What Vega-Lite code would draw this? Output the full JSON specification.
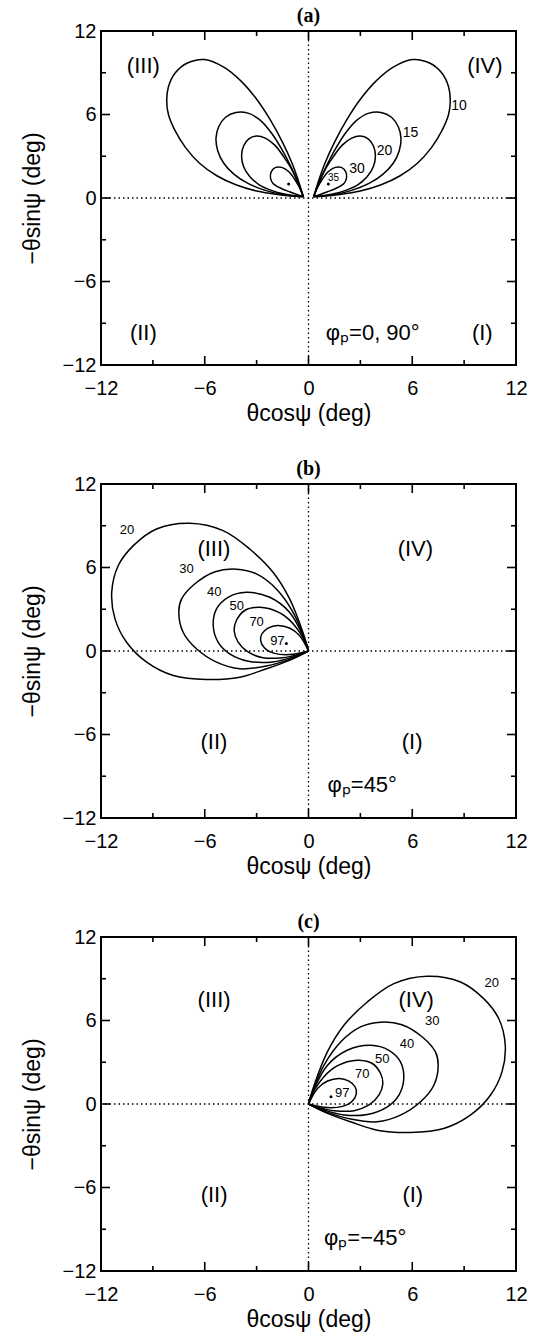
{
  "$schema": "https://vega.github.io/schema/vega-lite/v6.json",
  "padding": {"left": 20, "top": 5, "right": 5, "bottom": 1},
  "spacing": 32,
  "config": {
    "view": {"stroke": "black", "strokeWidth": 2},
    "font": "Liberation Sans",
    "axis": {"domain": false, "grid": false, "ticks": false, "labelFont": "Liberation Sans", "labelFontSize": 20, "labelColor": "black", "titleFont": "Liberation Sans", "titleFontSize": 23, "titleFontWeight": "normal", "titleColor": "black"},
    "title": {"font": "Liberation Serif", "fontSize": 20, "fontWeight": "bold", "color": "black", "offset": -5}
  },
  "datasets": {
    "loops": [
      {"p":"a","k":"10R","i":0,"x":0.3,"y":0.1},{"p":"a","k":"10R","i":1,"x":0.6,"y":1.3},{"p":"a","k":"10R","i":2,"x":0.95,"y":2.5},{"p":"a","k":"10R","i":3,"x":1.5,"y":4.0},{"p":"a","k":"10R","i":4,"x":2.2,"y":5.6},{"p":"a","k":"10R","i":5,"x":3.0,"y":7.1},{"p":"a","k":"10R","i":6,"x":3.9,"y":8.4},{"p":"a","k":"10R","i":7,"x":4.9,"y":9.4},{"p":"a","k":"10R","i":8,"x":6.0,"y":9.95},{"p":"a","k":"10R","i":9,"x":7.0,"y":9.7},{"p":"a","k":"10R","i":10,"x":7.7,"y":9.0},{"p":"a","k":"10R","i":11,"x":8.1,"y":8.0},{"p":"a","k":"10R","i":12,"x":8.2,"y":7.0},{"p":"a","k":"10R","i":13,"x":8.1,"y":6.0},{"p":"a","k":"10R","i":14,"x":7.7,"y":4.8},{"p":"a","k":"10R","i":15,"x":7.1,"y":3.6},{"p":"a","k":"10R","i":16,"x":6.3,"y":2.5},{"p":"a","k":"10R","i":17,"x":5.3,"y":1.6},{"p":"a","k":"10R","i":18,"x":4.2,"y":0.95},{"p":"a","k":"10R","i":19,"x":3.0,"y":0.5},{"p":"a","k":"10R","i":20,"x":1.8,"y":0.25},{"p":"a","k":"10R","i":21,"x":0.8,"y":0.13},{"p":"a","k":"10R","i":22,"x":0.3,"y":0.1},
      {"p":"a","k":"10L","i":0,"x":-0.3,"y":0.1},{"p":"a","k":"10L","i":1,"x":-0.6,"y":1.3},{"p":"a","k":"10L","i":2,"x":-0.95,"y":2.5},{"p":"a","k":"10L","i":3,"x":-1.5,"y":4.0},{"p":"a","k":"10L","i":4,"x":-2.2,"y":5.6},{"p":"a","k":"10L","i":5,"x":-3.0,"y":7.1},{"p":"a","k":"10L","i":6,"x":-3.9,"y":8.4},{"p":"a","k":"10L","i":7,"x":-4.9,"y":9.4},{"p":"a","k":"10L","i":8,"x":-6.0,"y":9.95},{"p":"a","k":"10L","i":9,"x":-7.0,"y":9.7},{"p":"a","k":"10L","i":10,"x":-7.7,"y":9.0},{"p":"a","k":"10L","i":11,"x":-8.1,"y":8.0},{"p":"a","k":"10L","i":12,"x":-8.2,"y":7.0},{"p":"a","k":"10L","i":13,"x":-8.1,"y":6.0},{"p":"a","k":"10L","i":14,"x":-7.7,"y":4.8},{"p":"a","k":"10L","i":15,"x":-7.1,"y":3.6},{"p":"a","k":"10L","i":16,"x":-6.3,"y":2.5},{"p":"a","k":"10L","i":17,"x":-5.3,"y":1.6},{"p":"a","k":"10L","i":18,"x":-4.2,"y":0.95},{"p":"a","k":"10L","i":19,"x":-3.0,"y":0.5},{"p":"a","k":"10L","i":20,"x":-1.8,"y":0.25},{"p":"a","k":"10L","i":21,"x":-0.8,"y":0.13},{"p":"a","k":"10L","i":22,"x":-0.3,"y":0.1},
      {"p":"a","k":"15R","i":0,"x":0.3,"y":0.1},{"p":"a","k":"15R","i":1,"x":0.6,"y":1.1},{"p":"a","k":"15R","i":2,"x":1.0,"y":2.2},{"p":"a","k":"15R","i":3,"x":1.5,"y":3.4},{"p":"a","k":"15R","i":4,"x":2.1,"y":4.6},{"p":"a","k":"15R","i":5,"x":2.8,"y":5.6},{"p":"a","k":"15R","i":6,"x":3.5,"y":6.1},{"p":"a","k":"15R","i":7,"x":4.2,"y":6.15},{"p":"a","k":"15R","i":8,"x":4.8,"y":5.8},{"p":"a","k":"15R","i":9,"x":5.2,"y":5.1},{"p":"a","k":"15R","i":10,"x":5.35,"y":4.3},{"p":"a","k":"15R","i":11,"x":5.25,"y":3.4},{"p":"a","k":"15R","i":12,"x":4.9,"y":2.5},{"p":"a","k":"15R","i":13,"x":4.3,"y":1.7},{"p":"a","k":"15R","i":14,"x":3.5,"y":1.05},{"p":"a","k":"15R","i":15,"x":2.5,"y":0.55},{"p":"a","k":"15R","i":16,"x":1.5,"y":0.25},{"p":"a","k":"15R","i":17,"x":0.7,"y":0.13},{"p":"a","k":"15R","i":18,"x":0.3,"y":0.1},
      {"p":"a","k":"15L","i":0,"x":-0.3,"y":0.1},{"p":"a","k":"15L","i":1,"x":-0.6,"y":1.1},{"p":"a","k":"15L","i":2,"x":-1.0,"y":2.2},{"p":"a","k":"15L","i":3,"x":-1.5,"y":3.4},{"p":"a","k":"15L","i":4,"x":-2.1,"y":4.6},{"p":"a","k":"15L","i":5,"x":-2.8,"y":5.6},{"p":"a","k":"15L","i":6,"x":-3.5,"y":6.1},{"p":"a","k":"15L","i":7,"x":-4.2,"y":6.15},{"p":"a","k":"15L","i":8,"x":-4.8,"y":5.8},{"p":"a","k":"15L","i":9,"x":-5.2,"y":5.1},{"p":"a","k":"15L","i":10,"x":-5.35,"y":4.3},{"p":"a","k":"15L","i":11,"x":-5.25,"y":3.4},{"p":"a","k":"15L","i":12,"x":-4.9,"y":2.5},{"p":"a","k":"15L","i":13,"x":-4.3,"y":1.7},{"p":"a","k":"15L","i":14,"x":-3.5,"y":1.05},{"p":"a","k":"15L","i":15,"x":-2.5,"y":0.55},{"p":"a","k":"15L","i":16,"x":-1.5,"y":0.25},{"p":"a","k":"15L","i":17,"x":-0.7,"y":0.13},{"p":"a","k":"15L","i":18,"x":-0.3,"y":0.1},
      {"p":"a","k":"20R","i":0,"x":0.3,"y":0.1},{"p":"a","k":"20R","i":1,"x":0.55,"y":0.9},{"p":"a","k":"20R","i":2,"x":0.9,"y":1.9},{"p":"a","k":"20R","i":3,"x":1.4,"y":2.9},{"p":"a","k":"20R","i":4,"x":1.95,"y":3.8},{"p":"a","k":"20R","i":5,"x":2.5,"y":4.3},{"p":"a","k":"20R","i":6,"x":3.0,"y":4.45},{"p":"a","k":"20R","i":7,"x":3.45,"y":4.25},{"p":"a","k":"20R","i":8,"x":3.75,"y":3.75},{"p":"a","k":"20R","i":9,"x":3.87,"y":3.0},{"p":"a","k":"20R","i":10,"x":3.75,"y":2.25},{"p":"a","k":"20R","i":11,"x":3.4,"y":1.55},{"p":"a","k":"20R","i":12,"x":2.85,"y":0.95},{"p":"a","k":"20R","i":13,"x":2.15,"y":0.55},{"p":"a","k":"20R","i":14,"x":1.4,"y":0.28},{"p":"a","k":"20R","i":15,"x":0.7,"y":0.14},{"p":"a","k":"20R","i":16,"x":0.3,"y":0.1},
      {"p":"a","k":"20L","i":0,"x":-0.3,"y":0.1},{"p":"a","k":"20L","i":1,"x":-0.55,"y":0.9},{"p":"a","k":"20L","i":2,"x":-0.9,"y":1.9},{"p":"a","k":"20L","i":3,"x":-1.4,"y":2.9},{"p":"a","k":"20L","i":4,"x":-1.95,"y":3.8},{"p":"a","k":"20L","i":5,"x":-2.5,"y":4.3},{"p":"a","k":"20L","i":6,"x":-3.0,"y":4.45},{"p":"a","k":"20L","i":7,"x":-3.45,"y":4.25},{"p":"a","k":"20L","i":8,"x":-3.75,"y":3.75},{"p":"a","k":"20L","i":9,"x":-3.87,"y":3.0},{"p":"a","k":"20L","i":10,"x":-3.75,"y":2.25},{"p":"a","k":"20L","i":11,"x":-3.4,"y":1.55},{"p":"a","k":"20L","i":12,"x":-2.85,"y":0.95},{"p":"a","k":"20L","i":13,"x":-2.15,"y":0.55},{"p":"a","k":"20L","i":14,"x":-1.4,"y":0.28},{"p":"a","k":"20L","i":15,"x":-0.7,"y":0.14},{"p":"a","k":"20L","i":16,"x":-0.3,"y":0.1},
      {"p":"a","k":"30R","i":0,"x":0.3,"y":0.1},{"p":"a","k":"30R","i":1,"x":0.5,"y":0.7},{"p":"a","k":"30R","i":2,"x":0.8,"y":1.35},{"p":"a","k":"30R","i":3,"x":1.15,"y":1.9},{"p":"a","k":"30R","i":4,"x":1.55,"y":2.2},{"p":"a","k":"30R","i":5,"x":1.9,"y":2.2},{"p":"a","k":"30R","i":6,"x":2.15,"y":1.9},{"p":"a","k":"30R","i":7,"x":2.2,"y":1.45},{"p":"a","k":"30R","i":8,"x":2.05,"y":1.05},{"p":"a","k":"30R","i":9,"x":1.6,"y":0.7},{"p":"a","k":"30R","i":10,"x":1.1,"y":0.45},{"p":"a","k":"30R","i":11,"x":0.6,"y":0.22},{"p":"a","k":"30R","i":12,"x":0.3,"y":0.1},
      {"p":"a","k":"30L","i":0,"x":-0.3,"y":0.1},{"p":"a","k":"30L","i":1,"x":-0.5,"y":0.7},{"p":"a","k":"30L","i":2,"x":-0.8,"y":1.35},{"p":"a","k":"30L","i":3,"x":-1.15,"y":1.9},{"p":"a","k":"30L","i":4,"x":-1.55,"y":2.2},{"p":"a","k":"30L","i":5,"x":-1.9,"y":2.2},{"p":"a","k":"30L","i":6,"x":-2.15,"y":1.9},{"p":"a","k":"30L","i":7,"x":-2.2,"y":1.45},{"p":"a","k":"30L","i":8,"x":-2.05,"y":1.05},{"p":"a","k":"30L","i":9,"x":-1.6,"y":0.7},{"p":"a","k":"30L","i":10,"x":-1.1,"y":0.45},{"p":"a","k":"30L","i":11,"x":-0.6,"y":0.22},{"p":"a","k":"30L","i":12,"x":-0.3,"y":0.1},

      {"p":"c","k":"20","i":0,"x":0,"y":0},{"p":"c","k":"20","i":1,"x":0.33,"y":1.36},{"p":"c","k":"20","i":2,"x":1.09,"y":3.74},{"p":"c","k":"20","i":3,"x":2.05,"y":5.66},{"p":"c","k":"20","i":4,"x":3.4,"y":7.33},{"p":"c","k":"20","i":5,"x":4.94,"y":8.65},{"p":"c","k":"20","i":6,"x":6.86,"y":9.18},{"p":"c","k":"20","i":7,"x":8.79,"y":8.77},{"p":"c","k":"20","i":8,"x":10.13,"y":7.57},{"p":"c","k":"20","i":9,"x":11.0,"y":6.14},{"p":"c","k":"20","i":10,"x":11.38,"y":4.22},{"p":"c","k":"20","i":11,"x":11.19,"y":2.31},{"p":"c","k":"20","i":12,"x":10.52,"y":0.63},{"p":"c","k":"20","i":13,"x":9.36,"y":-0.8},{"p":"c","k":"20","i":14,"x":7.82,"y":-1.76},{"p":"c","k":"20","i":15,"x":5.9,"y":-2.05},{"p":"c","k":"20","i":16,"x":3.97,"y":-1.88},{"p":"c","k":"20","i":17,"x":2.44,"y":-1.28},{"p":"c","k":"20","i":18,"x":1.1,"y":-0.67},{"p":"c","k":"20","i":19,"x":0,"y":0},
      {"p":"c","k":"30","i":0,"x":0,"y":0},{"p":"c","k":"30","i":1,"x":0.23,"y":0.89},{"p":"c","k":"30","i":2,"x":0.9,"y":2.8},{"p":"c","k":"30","i":3,"x":1.86,"y":4.46},{"p":"c","k":"30","i":4,"x":3.01,"y":5.54},{"p":"c","k":"30","i":5,"x":4.17,"y":5.88},{"p":"c","k":"30","i":6,"x":5.4,"y":5.7},{"p":"c","k":"30","i":7,"x":6.6,"y":4.8},{"p":"c","k":"30","i":8,"x":7.34,"y":3.74},{"p":"c","k":"30","i":9,"x":7.5,"y":2.79},{"p":"c","k":"30","i":10,"x":7.25,"y":1.35},{"p":"c","k":"30","i":11,"x":6.48,"y":0.16},{"p":"c","k":"30","i":12,"x":5.32,"y":-0.8},{"p":"c","k":"30","i":13,"x":3.97,"y":-1.28},{"p":"c","k":"30","i":14,"x":2.44,"y":-1.08},{"p":"c","k":"30","i":15,"x":1.1,"y":-0.6},{"p":"c","k":"30","i":16,"x":0,"y":0},
      {"p":"c","k":"40","i":0,"x":0,"y":0},{"p":"c","k":"40","i":1,"x":0.33,"y":1.12},{"p":"c","k":"40","i":2,"x":1.1,"y":2.79},{"p":"c","k":"40","i":3,"x":2.24,"y":3.86},{"p":"c","k":"40","i":4,"x":3.59,"y":4.22},{"p":"c","k":"40","i":5,"x":4.65,"y":3.86},{"p":"c","k":"40","i":6,"x":5.32,"y":3.03},{"p":"c","k":"40","i":7,"x":5.51,"y":1.83},{"p":"c","k":"40","i":8,"x":5.23,"y":0.64},{"p":"c","k":"40","i":9,"x":4.56,"y":-0.2},{"p":"c","k":"40","i":10,"x":3.4,"y":-0.75},{"p":"c","k":"40","i":11,"x":2.06,"y":-0.79},{"p":"c","k":"40","i":12,"x":0.9,"y":-0.43},{"p":"c","k":"40","i":13,"x":0,"y":0},
      {"p":"c","k":"50","i":0,"x":0,"y":0},{"p":"c","k":"50","i":1,"x":0.42,"y":1.17},{"p":"c","k":"50","i":2,"x":1.29,"y":2.44},{"p":"c","k":"50","i":3,"x":2.24,"y":3.03},{"p":"c","k":"50","i":4,"x":2.92,"y":3.15},{"p":"c","k":"50","i":5,"x":3.69,"y":2.91},{"p":"c","k":"50","i":6,"x":4.17,"y":2.19},{"p":"c","k":"50","i":7,"x":4.3,"y":1.47},{"p":"c","k":"50","i":8,"x":4.08,"y":0.65},{"p":"c","k":"50","i":9,"x":3.5,"y":-0.07},{"p":"c","k":"50","i":10,"x":2.64,"y":-0.48},{"p":"c","k":"50","i":11,"x":1.49,"y":-0.48},{"p":"c","k":"50","i":12,"x":0.62,"y":-0.26},{"p":"c","k":"50","i":13,"x":0,"y":0},
      {"p":"c","k":"70","i":0,"x":0,"y":0},{"p":"c","k":"70","i":1,"x":0.52,"y":1.12},{"p":"c","k":"70","i":2,"x":1.1,"y":1.65},{"p":"c","k":"70","i":3,"x":1.77,"y":1.84},{"p":"c","k":"70","i":4,"x":2.34,"y":1.65},{"p":"c","k":"70","i":5,"x":2.69,"y":1.24},{"p":"c","k":"70","i":6,"x":2.77,"y":0.77},{"p":"c","k":"70","i":7,"x":2.54,"y":0.22},{"p":"c","k":"70","i":8,"x":1.96,"y":-0.17},{"p":"c","k":"70","i":9,"x":1.1,"y":-0.26},{"p":"c","k":"70","i":10,"x":0.42,"y":-0.12},{"p":"c","k":"70","i":11,"x":0,"y":0},

      {"p":"b","k":"20","i":0,"x":0,"y":0},{"p":"b","k":"20","i":1,"x":-0.33,"y":1.36},{"p":"b","k":"20","i":2,"x":-1.09,"y":3.74},{"p":"b","k":"20","i":3,"x":-2.05,"y":5.66},{"p":"b","k":"20","i":4,"x":-3.4,"y":7.33},{"p":"b","k":"20","i":5,"x":-4.94,"y":8.65},{"p":"b","k":"20","i":6,"x":-6.86,"y":9.18},{"p":"b","k":"20","i":7,"x":-8.79,"y":8.77},{"p":"b","k":"20","i":8,"x":-10.13,"y":7.57},{"p":"b","k":"20","i":9,"x":-11.0,"y":6.14},{"p":"b","k":"20","i":10,"x":-11.38,"y":4.22},{"p":"b","k":"20","i":11,"x":-11.19,"y":2.31},{"p":"b","k":"20","i":12,"x":-10.52,"y":0.63},{"p":"b","k":"20","i":13,"x":-9.36,"y":-0.8},{"p":"b","k":"20","i":14,"x":-7.82,"y":-1.76},{"p":"b","k":"20","i":15,"x":-5.9,"y":-2.05},{"p":"b","k":"20","i":16,"x":-3.97,"y":-1.88},{"p":"b","k":"20","i":17,"x":-2.44,"y":-1.28},{"p":"b","k":"20","i":18,"x":-1.1,"y":-0.67},{"p":"b","k":"20","i":19,"x":0,"y":0},
      {"p":"b","k":"30","i":0,"x":0,"y":0},{"p":"b","k":"30","i":1,"x":-0.23,"y":0.89},{"p":"b","k":"30","i":2,"x":-0.9,"y":2.8},{"p":"b","k":"30","i":3,"x":-1.86,"y":4.46},{"p":"b","k":"30","i":4,"x":-3.01,"y":5.54},{"p":"b","k":"30","i":5,"x":-4.17,"y":5.88},{"p":"b","k":"30","i":6,"x":-5.4,"y":5.7},{"p":"b","k":"30","i":7,"x":-6.6,"y":4.8},{"p":"b","k":"30","i":8,"x":-7.34,"y":3.74},{"p":"b","k":"30","i":9,"x":-7.5,"y":2.79},{"p":"b","k":"30","i":10,"x":-7.25,"y":1.35},{"p":"b","k":"30","i":11,"x":-6.48,"y":0.16},{"p":"b","k":"30","i":12,"x":-5.32,"y":-0.8},{"p":"b","k":"30","i":13,"x":-3.97,"y":-1.28},{"p":"b","k":"30","i":14,"x":-2.44,"y":-1.08},{"p":"b","k":"30","i":15,"x":-1.1,"y":-0.6},{"p":"b","k":"30","i":16,"x":0,"y":0},
      {"p":"b","k":"40","i":0,"x":0,"y":0},{"p":"b","k":"40","i":1,"x":-0.33,"y":1.12},{"p":"b","k":"40","i":2,"x":-1.1,"y":2.79},{"p":"b","k":"40","i":3,"x":-2.24,"y":3.86},{"p":"b","k":"40","i":4,"x":-3.59,"y":4.22},{"p":"b","k":"40","i":5,"x":-4.65,"y":3.86},{"p":"b","k":"40","i":6,"x":-5.32,"y":3.03},{"p":"b","k":"40","i":7,"x":-5.51,"y":1.83},{"p":"b","k":"40","i":8,"x":-5.23,"y":0.64},{"p":"b","k":"40","i":9,"x":-4.56,"y":-0.2},{"p":"b","k":"40","i":10,"x":-3.4,"y":-0.75},{"p":"b","k":"40","i":11,"x":-2.06,"y":-0.79},{"p":"b","k":"40","i":12,"x":-0.9,"y":-0.43},{"p":"b","k":"40","i":13,"x":0,"y":0},
      {"p":"b","k":"50","i":0,"x":0,"y":0},{"p":"b","k":"50","i":1,"x":-0.42,"y":1.17},{"p":"b","k":"50","i":2,"x":-1.29,"y":2.44},{"p":"b","k":"50","i":3,"x":-2.24,"y":3.03},{"p":"b","k":"50","i":4,"x":-2.92,"y":3.15},{"p":"b","k":"50","i":5,"x":-3.69,"y":2.91},{"p":"b","k":"50","i":6,"x":-4.17,"y":2.19},{"p":"b","k":"50","i":7,"x":-4.3,"y":1.47},{"p":"b","k":"50","i":8,"x":-4.08,"y":0.65},{"p":"b","k":"50","i":9,"x":-3.5,"y":-0.07},{"p":"b","k":"50","i":10,"x":-2.64,"y":-0.48},{"p":"b","k":"50","i":11,"x":-1.49,"y":-0.48},{"p":"b","k":"50","i":12,"x":-0.62,"y":-0.26},{"p":"b","k":"50","i":13,"x":0,"y":0},
      {"p":"b","k":"70","i":0,"x":0,"y":0},{"p":"b","k":"70","i":1,"x":-0.52,"y":1.12},{"p":"b","k":"70","i":2,"x":-1.1,"y":1.65},{"p":"b","k":"70","i":3,"x":-1.77,"y":1.84},{"p":"b","k":"70","i":4,"x":-2.34,"y":1.65},{"p":"b","k":"70","i":5,"x":-2.69,"y":1.24},{"p":"b","k":"70","i":6,"x":-2.77,"y":0.77},{"p":"b","k":"70","i":7,"x":-2.54,"y":0.22},{"p":"b","k":"70","i":8,"x":-1.96,"y":-0.17},{"p":"b","k":"70","i":9,"x":-1.1,"y":-0.26},{"p":"b","k":"70","i":10,"x":-0.42,"y":-0.12},{"p":"b","k":"70","i":11,"x":0,"y":0}
    ],
    "dots": [
      {"p":"a","x":1.15,"y":1.0},{"p":"a","x":-1.15,"y":1.0},
      {"p":"b","x":-1.28,"y":0.53},
      {"p":"c","x":1.3,"y":0.52}
    ],
    "curveLabels": [
      {"p":"a","t":"10","x":8.7,"y":6.6,"s":14},{"p":"a","t":"15","x":5.9,"y":4.7,"s":14},{"p":"a","t":"20","x":4.4,"y":3.4,"s":14},{"p":"a","t":"30","x":2.8,"y":2.05,"s":14},{"p":"a","t":"35","x":1.45,"y":1.45,"s":10},
      {"p":"b","t":"20","x":-10.5,"y":8.68,"s":13},{"p":"b","t":"30","x":-7.05,"y":5.88,"s":13},{"p":"b","t":"40","x":-5.45,"y":4.26,"s":13},{"p":"b","t":"50","x":-4.15,"y":3.2,"s":13},{"p":"b","t":"70","x":-3.0,"y":2.1,"s":13},{"p":"b","t":"97","x":-1.8,"y":0.74,"s":13},
      {"p":"c","t":"20","x":10.6,"y":8.7,"s":13},{"p":"c","t":"30","x":7.15,"y":5.94,"s":13},{"p":"c","t":"40","x":5.7,"y":4.29,"s":13},{"p":"c","t":"50","x":4.26,"y":3.26,"s":13},{"p":"c","t":"70","x":3.11,"y":2.14,"s":13},{"p":"c","t":"97","x":1.95,"y":0.8,"s":13}
    ],
    "quadrants": [
      {"p":"a","t":"(III)","x":-9.55,"y":9.5},{"p":"a","t":"(IV)","x":10.2,"y":9.5},{"p":"a","t":"(II)","x":-9.55,"y":-9.7},{"p":"a","t":"(I)","x":10.05,"y":-9.7},
      {"p":"b","t":"(III)","x":-5.47,"y":7.3},{"p":"b","t":"(IV)","x":6.18,"y":7.3},{"p":"b","t":"(II)","x":-5.47,"y":-6.56},{"p":"b","t":"(I)","x":5.99,"y":-6.56},
      {"p":"c","t":"(III)","x":-5.46,"y":7.45},{"p":"c","t":"(IV)","x":6.23,"y":7.45},{"p":"c","t":"(II)","x":-5.46,"y":-6.54},{"p":"c","t":"(I)","x":6.03,"y":-6.54}
    ],
    "phase": [
      {"p":"a","t":"φₚ=0, 90°","x":1.0,"y":-9.7},
      {"p":"b","t":"φₚ=45°","x":1.1,"y":-9.66},
      {"p":"c","t":"φₚ=−45°","x":0.9,"y":-9.65}
    ],
    "majorTicks": [{"v":-12},{"v":-6},{"v":0},{"v":6},{"v":12}],
    "minorTicks": [{"v":-9},{"v":-3},{"v":3},{"v":9}],
    "zero": [{"v":0}]
  },
  "vconcat": [
    {
      "width": 415, "height": 334,
      "title": {"text": "(a)"},
      "resolve": {"axis": {"x": "independent", "y": "independent"}},
      "layer": [
        {"data": {"name": "loops"}, "transform": [{"filter": "datum.p === 'a'"}],
         "mark": {"type": "line", "interpolate": "catmull-rom", "color": "black", "strokeWidth": 1.5},
         "encoding": {
           "x": {"field": "x", "type": "quantitative", "scale": {"domain": [-12, 12], "nice": false},
                 "axis": {"orient": "bottom", "values": [-12, -6, 0, 6, 12], "labelPadding": 13, "labelFlush": false, "labelOverlap": false, "title": "θcosψ (deg)", "titlePadding": 4}},
           "y": {"field": "y", "type": "quantitative", "scale": {"domain": [-12, 12], "nice": false},
                 "axis": {"orient": "left", "values": [-12, -6, 0, 6, 12], "labelPadding": 5, "labelFlush": false, "labelOverlap": false, "title": "−θsinψ (deg)", "titlePadding": 18}},
           "detail": {"field": "k"},
           "order": {"field": "i", "type": "quantitative"}
         }},
        {"data": {"name": "zero"}, "mark": {"type": "rule", "color": "black", "strokeWidth": 1.3, "strokeDash": [1.5, 3]},
         "encoding": {"x": {"field": "v", "type": "quantitative", "axis": null}}},
        {"data": {"name": "zero"}, "mark": {"type": "rule", "color": "black", "strokeWidth": 1.3, "strokeDash": [1.5, 3]},
         "encoding": {"y": {"field": "v", "type": "quantitative", "axis": null}}},
        {"data": {"name": "majorTicks"}, "mark": {"type": "tick", "orient": "vertical", "size": 18, "thickness": 1.6, "color": "black", "opacity": 1, "clip": true},
         "encoding": {"x": {"field": "v", "type": "quantitative", "axis": null}, "y": {"datum": -12, "type": "quantitative", "axis": null}}},
        {"data": {"name": "majorTicks"}, "mark": {"type": "tick", "orient": "vertical", "size": 18, "thickness": 1.6, "color": "black", "opacity": 1, "clip": true},
         "encoding": {"x": {"field": "v", "type": "quantitative", "axis": null}, "y": {"datum": 12, "type": "quantitative", "axis": null}}},
        {"data": {"name": "minorTicks"}, "mark": {"type": "tick", "orient": "vertical", "size": 10, "thickness": 1.6, "color": "black", "opacity": 1, "clip": true},
         "encoding": {"x": {"field": "v", "type": "quantitative", "axis": null}, "y": {"datum": -12, "type": "quantitative", "axis": null}}},
        {"data": {"name": "minorTicks"}, "mark": {"type": "tick", "orient": "vertical", "size": 10, "thickness": 1.6, "color": "black", "opacity": 1, "clip": true},
         "encoding": {"x": {"field": "v", "type": "quantitative", "axis": null}, "y": {"datum": 12, "type": "quantitative", "axis": null}}},
        {"data": {"name": "majorTicks"}, "mark": {"type": "tick", "orient": "horizontal", "size": 18, "thickness": 1.6, "color": "black", "opacity": 1, "clip": true},
         "encoding": {"y": {"field": "v", "type": "quantitative", "axis": null}, "x": {"datum": -12, "type": "quantitative", "axis": null}}},
        {"data": {"name": "majorTicks"}, "mark": {"type": "tick", "orient": "horizontal", "size": 18, "thickness": 1.6, "color": "black", "opacity": 1, "clip": true},
         "encoding": {"y": {"field": "v", "type": "quantitative", "axis": null}, "x": {"datum": 12, "type": "quantitative", "axis": null}}},
        {"data": {"name": "minorTicks"}, "mark": {"type": "tick", "orient": "horizontal", "size": 10, "thickness": 1.6, "color": "black", "opacity": 1, "clip": true},
         "encoding": {"y": {"field": "v", "type": "quantitative", "axis": null}, "x": {"datum": -12, "type": "quantitative", "axis": null}}},
        {"data": {"name": "minorTicks"}, "mark": {"type": "tick", "orient": "horizontal", "size": 10, "thickness": 1.6, "color": "black", "opacity": 1, "clip": true},
         "encoding": {"y": {"field": "v", "type": "quantitative", "axis": null}, "x": {"datum": 12, "type": "quantitative", "axis": null}}},
        {"data": {"name": "dots"}, "transform": [{"filter": "datum.p === 'a'"}],
         "mark": {"type": "circle", "color": "black", "size": 9, "opacity": 1},
         "encoding": {"x": {"field": "x", "type": "quantitative", "axis": null}, "y": {"field": "y", "type": "quantitative", "axis": null}}},
        {"data": {"name": "curveLabels"}, "transform": [{"filter": "datum.p === 'a'"}],
         "mark": {"type": "text", "color": "black", "font": "Liberation Sans"},
         "encoding": {"x": {"field": "x", "type": "quantitative", "axis": null}, "y": {"field": "y", "type": "quantitative", "axis": null}, "text": {"field": "t"}, "size": {"field": "s", "type": "quantitative", "scale": null}}},
        {"data": {"name": "quadrants"}, "transform": [{"filter": "datum.p === 'a'"}],
         "mark": {"type": "text", "color": "black", "fontSize": 22, "font": "Liberation Sans"},
         "encoding": {"x": {"field": "x", "type": "quantitative", "axis": null}, "y": {"field": "y", "type": "quantitative", "axis": null}, "text": {"field": "t"}}},
        {"data": {"name": "phase"}, "transform": [{"filter": "datum.p === 'a'"}],
         "mark": {"type": "text", "color": "black", "fontSize": 22, "align": "left", "font": "Liberation Sans"},
         "encoding": {"x": {"field": "x", "type": "quantitative", "axis": null}, "y": {"field": "y", "type": "quantitative", "axis": null}, "text": {"field": "t"}}}
      ]
    },
    {
      "width": 415, "height": 334,
      "title": {"text": "(b)"},
      "resolve": {"axis": {"x": "independent", "y": "independent"}},
      "layer": [
        {"data": {"name": "loops"}, "transform": [{"filter": "datum.p === 'b'"}],
         "mark": {"type": "line", "interpolate": "catmull-rom", "color": "black", "strokeWidth": 1.5},
         "encoding": {
           "x": {"field": "x", "type": "quantitative", "scale": {"domain": [-12, 12], "nice": false},
                 "axis": {"orient": "bottom", "values": [-12, -6, 0, 6, 12], "labelPadding": 13, "labelFlush": false, "labelOverlap": false, "title": "θcosψ (deg)", "titlePadding": 4}},
           "y": {"field": "y", "type": "quantitative", "scale": {"domain": [-12, 12], "nice": false},
                 "axis": {"orient": "left", "values": [-12, -6, 0, 6, 12], "labelPadding": 5, "labelFlush": false, "labelOverlap": false, "title": "−θsinψ (deg)", "titlePadding": 18}},
           "detail": {"field": "k"},
           "order": {"field": "i", "type": "quantitative"}
         }},
        {"data": {"name": "zero"}, "mark": {"type": "rule", "color": "black", "strokeWidth": 1.3, "strokeDash": [1.5, 3]},
         "encoding": {"x": {"field": "v", "type": "quantitative", "axis": null}}},
        {"data": {"name": "zero"}, "mark": {"type": "rule", "color": "black", "strokeWidth": 1.3, "strokeDash": [1.5, 3]},
         "encoding": {"y": {"field": "v", "type": "quantitative", "axis": null}}},
        {"data": {"name": "majorTicks"}, "mark": {"type": "tick", "orient": "vertical", "size": 18, "thickness": 1.6, "color": "black", "opacity": 1, "clip": true},
         "encoding": {"x": {"field": "v", "type": "quantitative", "axis": null}, "y": {"datum": -12, "type": "quantitative", "axis": null}}},
        {"data": {"name": "majorTicks"}, "mark": {"type": "tick", "orient": "vertical", "size": 18, "thickness": 1.6, "color": "black", "opacity": 1, "clip": true},
         "encoding": {"x": {"field": "v", "type": "quantitative", "axis": null}, "y": {"datum": 12, "type": "quantitative", "axis": null}}},
        {"data": {"name": "minorTicks"}, "mark": {"type": "tick", "orient": "vertical", "size": 10, "thickness": 1.6, "color": "black", "opacity": 1, "clip": true},
         "encoding": {"x": {"field": "v", "type": "quantitative", "axis": null}, "y": {"datum": -12, "type": "quantitative", "axis": null}}},
        {"data": {"name": "minorTicks"}, "mark": {"type": "tick", "orient": "vertical", "size": 10, "thickness": 1.6, "color": "black", "opacity": 1, "clip": true},
         "encoding": {"x": {"field": "v", "type": "quantitative", "axis": null}, "y": {"datum": 12, "type": "quantitative", "axis": null}}},
        {"data": {"name": "majorTicks"}, "mark": {"type": "tick", "orient": "horizontal", "size": 18, "thickness": 1.6, "color": "black", "opacity": 1, "clip": true},
         "encoding": {"y": {"field": "v", "type": "quantitative", "axis": null}, "x": {"datum": -12, "type": "quantitative", "axis": null}}},
        {"data": {"name": "majorTicks"}, "mark": {"type": "tick", "orient": "horizontal", "size": 18, "thickness": 1.6, "color": "black", "opacity": 1, "clip": true},
         "encoding": {"y": {"field": "v", "type": "quantitative", "axis": null}, "x": {"datum": 12, "type": "quantitative", "axis": null}}},
        {"data": {"name": "minorTicks"}, "mark": {"type": "tick", "orient": "horizontal", "size": 10, "thickness": 1.6, "color": "black", "opacity": 1, "clip": true},
         "encoding": {"y": {"field": "v", "type": "quantitative", "axis": null}, "x": {"datum": -12, "type": "quantitative", "axis": null}}},
        {"data": {"name": "minorTicks"}, "mark": {"type": "tick", "orient": "horizontal", "size": 10, "thickness": 1.6, "color": "black", "opacity": 1, "clip": true},
         "encoding": {"y": {"field": "v", "type": "quantitative", "axis": null}, "x": {"datum": 12, "type": "quantitative", "axis": null}}},
        {"data": {"name": "dots"}, "transform": [{"filter": "datum.p === 'b'"}],
         "mark": {"type": "circle", "color": "black", "size": 9, "opacity": 1},
         "encoding": {"x": {"field": "x", "type": "quantitative", "axis": null}, "y": {"field": "y", "type": "quantitative", "axis": null}}},
        {"data": {"name": "curveLabels"}, "transform": [{"filter": "datum.p === 'b'"}],
         "mark": {"type": "text", "color": "black", "font": "Liberation Sans"},
         "encoding": {"x": {"field": "x", "type": "quantitative", "axis": null}, "y": {"field": "y", "type": "quantitative", "axis": null}, "text": {"field": "t"}, "size": {"field": "s", "type": "quantitative", "scale": null}}},
        {"data": {"name": "quadrants"}, "transform": [{"filter": "datum.p === 'b'"}],
         "mark": {"type": "text", "color": "black", "fontSize": 22, "font": "Liberation Sans"},
         "encoding": {"x": {"field": "x", "type": "quantitative", "axis": null}, "y": {"field": "y", "type": "quantitative", "axis": null}, "text": {"field": "t"}}},
        {"data": {"name": "phase"}, "transform": [{"filter": "datum.p === 'b'"}],
         "mark": {"type": "text", "color": "black", "fontSize": 22, "align": "left", "font": "Liberation Sans"},
         "encoding": {"x": {"field": "x", "type": "quantitative", "axis": null}, "y": {"field": "y", "type": "quantitative", "axis": null}, "text": {"field": "t"}}}
      ]
    },
    {
      "width": 415, "height": 334,
      "title": {"text": "(c)"},
      "resolve": {"axis": {"x": "independent", "y": "independent"}},
      "layer": [
        {"data": {"name": "loops"}, "transform": [{"filter": "datum.p === 'c'"}],
         "mark": {"type": "line", "interpolate": "catmull-rom", "color": "black", "strokeWidth": 1.5},
         "encoding": {
           "x": {"field": "x", "type": "quantitative", "scale": {"domain": [-12, 12], "nice": false},
                 "axis": {"orient": "bottom", "values": [-12, -6, 0, 6, 12], "labelPadding": 13, "labelFlush": false, "labelOverlap": false, "title": "θcosψ (deg)", "titlePadding": 4}},
           "y": {"field": "y", "type": "quantitative", "scale": {"domain": [-12, 12], "nice": false},
                 "axis": {"orient": "left", "values": [-12, -6, 0, 6, 12], "labelPadding": 5, "labelFlush": false, "labelOverlap": false, "title": "−θsinψ (deg)", "titlePadding": 18}},
           "detail": {"field": "k"},
           "order": {"field": "i", "type": "quantitative"}
         }},
        {"data": {"name": "zero"}, "mark": {"type": "rule", "color": "black", "strokeWidth": 1.3, "strokeDash": [1.5, 3]},
         "encoding": {"x": {"field": "v", "type": "quantitative", "axis": null}}},
        {"data": {"name": "zero"}, "mark": {"type": "rule", "color": "black", "strokeWidth": 1.3, "strokeDash": [1.5, 3]},
         "encoding": {"y": {"field": "v", "type": "quantitative", "axis": null}}},
        {"data": {"name": "majorTicks"}, "mark": {"type": "tick", "orient": "vertical", "size": 18, "thickness": 1.6, "color": "black", "opacity": 1, "clip": true},
         "encoding": {"x": {"field": "v", "type": "quantitative", "axis": null}, "y": {"datum": -12, "type": "quantitative", "axis": null}}},
        {"data": {"name": "majorTicks"}, "mark": {"type": "tick", "orient": "vertical", "size": 18, "thickness": 1.6, "color": "black", "opacity": 1, "clip": true},
         "encoding": {"x": {"field": "v", "type": "quantitative", "axis": null}, "y": {"datum": 12, "type": "quantitative", "axis": null}}},
        {"data": {"name": "minorTicks"}, "mark": {"type": "tick", "orient": "vertical", "size": 10, "thickness": 1.6, "color": "black", "opacity": 1, "clip": true},
         "encoding": {"x": {"field": "v", "type": "quantitative", "axis": null}, "y": {"datum": -12, "type": "quantitative", "axis": null}}},
        {"data": {"name": "minorTicks"}, "mark": {"type": "tick", "orient": "vertical", "size": 10, "thickness": 1.6, "color": "black", "opacity": 1, "clip": true},
         "encoding": {"x": {"field": "v", "type": "quantitative", "axis": null}, "y": {"datum": 12, "type": "quantitative", "axis": null}}},
        {"data": {"name": "majorTicks"}, "mark": {"type": "tick", "orient": "horizontal", "size": 18, "thickness": 1.6, "color": "black", "opacity": 1, "clip": true},
         "encoding": {"y": {"field": "v", "type": "quantitative", "axis": null}, "x": {"datum": -12, "type": "quantitative", "axis": null}}},
        {"data": {"name": "majorTicks"}, "mark": {"type": "tick", "orient": "horizontal", "size": 18, "thickness": 1.6, "color": "black", "opacity": 1, "clip": true},
         "encoding": {"y": {"field": "v", "type": "quantitative", "axis": null}, "x": {"datum": 12, "type": "quantitative", "axis": null}}},
        {"data": {"name": "minorTicks"}, "mark": {"type": "tick", "orient": "horizontal", "size": 10, "thickness": 1.6, "color": "black", "opacity": 1, "clip": true},
         "encoding": {"y": {"field": "v", "type": "quantitative", "axis": null}, "x": {"datum": -12, "type": "quantitative", "axis": null}}},
        {"data": {"name": "minorTicks"}, "mark": {"type": "tick", "orient": "horizontal", "size": 10, "thickness": 1.6, "color": "black", "opacity": 1, "clip": true},
         "encoding": {"y": {"field": "v", "type": "quantitative", "axis": null}, "x": {"datum": 12, "type": "quantitative", "axis": null}}},
        {"data": {"name": "dots"}, "transform": [{"filter": "datum.p === 'c'"}],
         "mark": {"type": "circle", "color": "black", "size": 9, "opacity": 1},
         "encoding": {"x": {"field": "x", "type": "quantitative", "axis": null}, "y": {"field": "y", "type": "quantitative", "axis": null}}},
        {"data": {"name": "curveLabels"}, "transform": [{"filter": "datum.p === 'c'"}],
         "mark": {"type": "text", "color": "black", "font": "Liberation Sans"},
         "encoding": {"x": {"field": "x", "type": "quantitative", "axis": null}, "y": {"field": "y", "type": "quantitative", "axis": null}, "text": {"field": "t"}, "size": {"field": "s", "type": "quantitative", "scale": null}}},
        {"data": {"name": "quadrants"}, "transform": [{"filter": "datum.p === 'c'"}],
         "mark": {"type": "text", "color": "black", "fontSize": 22, "font": "Liberation Sans"},
         "encoding": {"x": {"field": "x", "type": "quantitative", "axis": null}, "y": {"field": "y", "type": "quantitative", "axis": null}, "text": {"field": "t"}}},
        {"data": {"name": "phase"}, "transform": [{"filter": "datum.p === 'c'"}],
         "mark": {"type": "text", "color": "black", "fontSize": 22, "align": "left", "font": "Liberation Sans"},
         "encoding": {"x": {"field": "x", "type": "quantitative", "axis": null}, "y": {"field": "y", "type": "quantitative", "axis": null}, "text": {"field": "t"}}}
      ]
    }
  ]
}
